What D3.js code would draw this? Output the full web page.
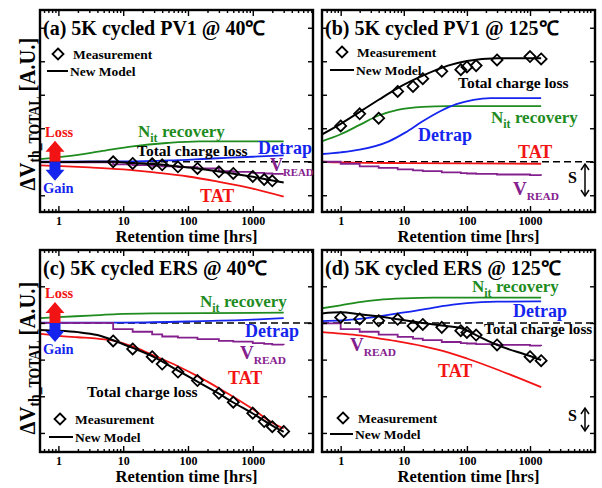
<!DOCTYPE html>
<html>
<head>
<meta charset="utf-8">
<script src="https://cdn.jsdelivr.net/npm/d3@7"></script>
<style>
body { margin: 0; background: #fff; }
svg { display: block; font-family: "Liberation Serif", "Times New Roman", serif; font-weight: bold; }
</style>
</head>
<body>
<div id="chart"></div>
<script>
// ---- data (time in hrs, dVth in A.U.) ----
var xTickLabels = ["1", "10", "100", "1000"];
var xMajor = [1, 10, 100, 1000];

// (a) PV1 @ 40C
var aMeasT = [7, 14, 28, 40, 70, 140, 300, 500, 1000, 1500, 2000];
var aMeasV = [0.0, -0.05, -0.06, -0.09, -0.15, -0.2, -0.3, -0.35, -0.44, -0.53, -0.57];
var aModelT = [0.52, 1, 3, 7, 14, 30, 70, 140, 300, 1000, 2000, 3000];
var aModelV = [-0.01, -0.01, 0, 0, -0.04, -0.07, -0.14, -0.2, -0.29, -0.45, -0.56, -0.62];
var aNitT = [0.52, 1.3, 4.4, 14, 47, 150, 3000];
var aNitV = [0.08, 0.16, 0.31, 0.46, 0.56, 0.61, 0.61];
var aDetT = [0.52, 10, 50, 200, 1000, 3000];
var aDetV = [0, 0.01, 0.04, 0.09, 0.15, 0.19];
var aTatT = [0.52, 1, 3, 10, 30, 100, 300, 1000, 3000];
var aTatV = [-0.11, -0.13, -0.17, -0.23, -0.32, -0.44, -0.6, -0.8, -1.04];
var aVrdT = [0.52, 7, 14, 28, 40, 70, 140, 300, 500, 1000, 1500, 2000, 3000];
var aVrdV = [-0.02, -0.08, -0.1, -0.12, -0.14, -0.16, -0.2, -0.28, -0.3, -0.33, -0.35, -0.36, -0.36];

// (b) PV1 @ 125C
var bMeasT = [1, 2, 4, 8, 14, 20, 40, 80, 100, 140, 300, 1000, 1500];
var bMeasV = [1.07, 1.43, 1.30, 2.10, 2.25, 2.48, 2.70, 2.75, 2.83, 2.87, 3.04, 3.14, 3.07];
var bModelT = [0.5, 1, 2, 4, 8, 20, 50, 100, 300, 1500];
var bModelV = [0.81, 1.13, 1.49, 1.85, 2.2, 2.57, 2.87, 3.01, 3.09, 3.09];
var bNitT = [0.5, 1, 2, 4, 8, 20, 50, 1500];
var bNitV = [0.61, 0.82, 1.1, 1.38, 1.55, 1.64, 1.66, 1.66];
var bDetT = [0.5, 1, 2, 5.8, 10.5, 19.6, 37, 68, 127, 236, 1500];
var bDetV = [0.23, 0.28, 0.36, 0.61, 0.87, 1.2, 1.5, 1.72, 1.85, 1.9, 1.9];
var bTatT = [0.5, 1, 10, 100, 1500];
var bTatV = [0, -0.02, -0.04, -0.05, -0.06];
var bVrdT = [0.5, 1, 2, 4, 8, 14, 20, 40, 80, 100, 140, 300, 1000, 1500];
var bVrdV = [0, -0.06, -0.14, -0.18, -0.23, -0.26, -0.28, -0.32, -0.34, -0.35, -0.36, -0.38, -0.4, -0.41];

// (c) ERS @ 40C
var cMeasT = [7, 14, 28, 40, 70, 140, 300, 500, 1000, 1500, 2000, 3000];
var cMeasV = [-0.49, -0.71, -0.92, -1.12, -1.34, -1.57, -1.92, -2.16, -2.46, -2.69, -2.83, -2.96];
var cModelT = [0.52, 1, 2, 4, 7, 14, 30, 70, 140, 300, 500, 1000, 2000, 3000];
var cModelV = [-0.19, -0.21, -0.25, -0.33, -0.47, -0.68, -0.93, -1.3, -1.6, -1.93, -2.17, -2.47, -2.8, -2.97];
var cNitT = [0.52, 1, 3, 8, 30, 3000];
var cNitV = [0.13, 0.16, 0.2, 0.24, 0.26, 0.28];
var cDetT = [0.52, 10, 100, 1000, 3000];
var cDetV = [0.01, 0.01, 0.04, 0.09, 0.13];
var cTatT = [0.52, 1, 2, 4, 7, 14, 28, 70, 140, 300, 1000, 2000, 3000];
var cTatV = [-0.3, -0.35, -0.39, -0.43, -0.48, -0.64, -0.87, -1.18, -1.45, -1.78, -2.35, -2.72, -2.88];
var cVrdT = [0.52, 7, 14, 28, 40, 70, 140, 300, 500, 1000, 1500, 2000, 3000];
var cVrdV = [0, -0.17, -0.24, -0.31, -0.37, -0.4, -0.44, -0.49, -0.51, -0.55, -0.57, -0.59, -0.6];

// (d) ERS @ 125C
var dMeasT = [1, 2, 4, 8, 14, 20, 40, 80, 100, 140, 300, 1000, 1500];
var dMeasV = [0.15, 0.11, 0.06, 0.1, -0.08, -0.04, -0.12, -0.21, -0.26, -0.33, -0.6, -0.92, -1.03];
var dModelT = [0.5, 1, 2, 4, 8, 20, 40, 84, 140, 300, 1000, 1500];
var dModelV = [0.26, 0.29, 0.24, 0.18, 0.1, 0.0, -0.07, -0.15, -0.33, -0.6, -0.9, -1.01];
var dNitT = [0.5, 1, 2, 4, 10, 30, 1500];
var dNitV = [0.4, 0.48, 0.57, 0.63, 0.67, 0.69, 0.69];
var dDetT = [0.5, 1, 2, 4, 8, 15, 30, 60, 100, 300, 1500];
var dDetV = [0.05, 0.07, 0.11, 0.18, 0.26, 0.33, 0.42, 0.5, 0.54, 0.58, 0.59];
var dTatT = [0.5, 1, 2, 4, 8, 20, 50, 100, 300, 700, 1500];
var dTatV = [-0.25, -0.29, -0.34, -0.42, -0.5, -0.63, -0.8, -0.97, -1.27, -1.52, -1.75];
var dVrdT = [0.5, 1, 2, 4, 8, 14, 20, 40, 80, 100, 140, 300, 1000, 1500];
var dVrdV = [-0.01, -0.17, -0.24, -0.32, -0.38, -0.43, -0.47, -0.52, -0.55, -0.56, -0.58, -0.6, -0.62, -0.63];

var GREEN = "#1f8c1f", BLUE = "#1525ee", RED = "#f21414", PURPLE = "#84208e";

var W = 602, H = 488;
var svg = d3.select("#chart").append("svg").attr("width", W).attr("height", H);

function zip(t, v) { return t.map(function (d, i) { return [d, v[i]]; }); }

/**
 * Text with subscript parts: parts = [[string, isSub, size, shift]]
 */
function richText(g, x, y, size, color, parts, anchor) {
    var t = g.append("text").attr("x", x).attr("y", y)
        .attr("font-size", size).attr("fill", color)
        .attr("text-anchor", anchor || "start");
    var shift = 0;
    parts.forEach(function (p) {
        var sp = t.append("tspan").text(p[0]);
        if (p[2]) sp.attr("font-size", p[2]);
        if (p[1]) { var s = p[3] || size * 0.3; sp.attr("dy", s); shift = s; }
        else if (shift) { sp.attr("dy", -shift); shift = 0; }
    });
    return t;
}

function diamond(g, cx, cy) {
    var r = 5.5;
    g.append("path")
        .attr("d", "M" + cx + "," + (cy - r) + "L" + (cx + r) + "," + cy + "L" + cx + "," + (cy + r) + "L" + (cx - r) + "," + cy + "Z")
        .attr("fill", "none").attr("stroke", "#000").attr("stroke-width", 1.8);
}

function drawPanel(p) {
    var g = svg.append("g");
    var x = d3.scaleLog().domain(p.xDom).range([p.x0, p.x1]);
    var y = d3.scaleLinear().domain(p.yDom).range([p.y1, p.y0]);

    var clip = "clip-" + p.id;
    svg.append("clipPath").attr("id", clip).append("rect")
        .attr("x", p.x0).attr("y", p.y0).attr("width", p.x1 - p.x0).attr("height", p.y1 - p.y0);
    var plot = g.append("g").attr("clip-path", "url(#" + clip + ")");

    // zero reference
    plot.append("line")
        .attr("x1", p.x0).attr("x2", p.x1).attr("y1", y(0)).attr("y2", y(0))
        .attr("stroke", "#000").attr("stroke-width", 1.6).attr("stroke-dasharray", "7,4");

    var smooth = d3.line().x(function (d) { return x(d[0]); }).y(function (d) { return y(d[1]); })
        .curve(d3.curveMonotoneX);
    var step = d3.line().x(function (d) { return x(d[0]); }).y(function (d) { return y(d[1]); })
        .curve(d3.curveStepAfter);

    plot.append("path").datum(zip(p.nit[0], p.nit[1])).attr("d", smooth)
        .attr("fill", "none").attr("stroke", GREEN).attr("stroke-width", 1.8);
    plot.append("path").datum(zip(p.det[0], p.det[1])).attr("d", smooth)
        .attr("fill", "none").attr("stroke", BLUE).attr("stroke-width", 1.8);
    plot.append("path").datum(zip(p.tat[0], p.tat[1])).attr("d", smooth)
        .attr("fill", "none").attr("stroke", RED).attr("stroke-width", 1.8);
    plot.append("path").datum(zip(p.vrd[0], p.vrd[1])).attr("d", step)
        .attr("fill", "none").attr("stroke", PURPLE).attr("stroke-width", 1.8);
    plot.append("path").datum(zip(p.model[0], p.model[1])).attr("d", smooth)
        .attr("fill", "none").attr("stroke", "#000").attr("stroke-width", 2);
    zip(p.meas[0], p.meas[1]).forEach(function (d) { diamond(plot, x(d[0]), y(d[1])); });

    // ticks
    var minor = [];
    for (var e = -1; e < 5; e++) for (var k = 2; k < 10; k++) {
        var v = k * Math.pow(10, e);
        if (v >= p.xDom[0] && v <= p.xDom[1]) minor.push(v);
    }
    var axes = g.append("g");
    axes.append("g").attr("transform", "translate(0," + p.y1 + ")")
        .call(d3.axisBottom(x).tickValues(minor).tickSize(-3).tickFormat(""));
    axes.append("g").attr("transform", "translate(0," + p.y1 + ")")
        .call(d3.axisBottom(x).tickValues(xMajor).tickSize(-6).tickPadding(4)
            .tickFormat(function (d, i) { return xTickLabels[i]; }));
    axes.append("g").attr("transform", "translate(0," + p.y0 + ")")
        .call(d3.axisTop(x).tickValues(minor).tickSize(-3).tickFormat(""));
    axes.append("g").attr("transform", "translate(0," + p.y0 + ")")
        .call(d3.axisTop(x).tickValues(xMajor).tickSize(-6).tickFormat(""));
    axes.append("g").attr("transform", "translate(" + p.x0 + ",0)")
        .call(d3.axisLeft(y).tickValues(p.yTicks).tickSize(-5).tickFormat(""));
    axes.append("g").attr("transform", "translate(" + p.x1 + ",0)")
        .call(d3.axisRight(y).tickValues(p.yTicks).tickSize(-5).tickFormat(""));
    axes.selectAll(".domain").remove();
    axes.selectAll(".tick line").attr("stroke", "#000").attr("stroke-width", 1.4);
    axes.selectAll(".tick text").attr("font-family", "Liberation Serif, Times New Roman, serif")
        .attr("font-weight", "bold").attr("font-size", 12).attr("fill", "#000");

    g.append("rect").attr("x", p.x0).attr("y", p.y0)
        .attr("width", p.x1 - p.x0).attr("height", p.y1 - p.y0)
        .attr("fill", "none").attr("stroke", "#000").attr("stroke-width", 2.4);

    // axis title
    g.append("text").attr("x", (p.x0 + p.x1) / 2 + 10).attr("y", p.y1 + 30)
        .attr("text-anchor", "middle").attr("font-size", 16.5).text("Retention time [hrs]");

    // panel title
    g.append("text").attr("x", p.x0 + 3).attr("y", p.y0 + 25)
        .attr("font-size", 20).text(p.title);

    p.x = x; p.y = y; p.g = g;
    return p;
}

function lossGain(p, cx) {
    var z = p.y(0);
    p.g.append("path")
        .attr("d", "M" + (cx - 5.5) + "," + z + "V" + (z - 10) + "H" + (cx - 9.5) + "L" + cx + "," + (z - 21) +
            "L" + (cx + 9.5) + "," + (z - 10) + "H" + (cx + 5.5) + "V" + z + "Z")
        .attr("fill", RED);
    p.g.append("path")
        .attr("d", "M" + (cx - 5.5) + "," + z + "V" + (z + 8) + "H" + (cx - 9.5) + "L" + cx + "," + (z + 19) +
            "L" + (cx + 9.5) + "," + (z + 8) + "H" + (cx + 5.5) + "V" + z + "Z")
        .attr("fill", BLUE);
    p.g.append("text").attr("x", 45).attr("y", z - 25).attr("font-size", 14.5).attr("fill", RED).text("Loss");
    p.g.append("text").attr("x", 43).attr("y", z + 31).attr("font-size", 14.5).attr("fill", BLUE).text("Gain");
}

function sArrow(p, yTop, yBot, yText) {
    var ax = 585;
    p.g.append("line").attr("x1", ax).attr("x2", ax).attr("y1", yTop + 1).attr("y2", yBot - 1)
        .attr("stroke", "#000").attr("stroke-width", 1.5);
    p.g.append("path").attr("d", "M" + (ax - 4) + "," + (yTop + 6) + "L" + ax + "," + yTop + "L" + (ax + 4) + "," + (yTop + 6))
        .attr("fill", "none").attr("stroke", "#000").attr("stroke-width", 1.5);
    p.g.append("path").attr("d", "M" + (ax - 4) + "," + (yBot - 6) + "L" + ax + "," + yBot + "L" + (ax + 4) + "," + (yBot - 6))
        .attr("fill", "none").attr("stroke", "#000").attr("stroke-width", 1.5);
    p.g.append("text").attr("x", 568).attr("y", yText).attr("font-size", 16).text("S");
}

function legend(p, dx, dy, lx1, lx2, ly) {
    diamond(p.g, dx, dy);
    p.g.append("text").attr("x", dx + 15).attr("y", dy + 4.5).attr("font-size", 13.5).text("Measurement");
    p.g.append("line").attr("x1", lx1).attr("x2", lx2).attr("y1", ly).attr("y2", ly)
        .attr("stroke", "#000").attr("stroke-width", 2);
    p.g.append("text").attr("x", lx2 + 2).attr("y", ly + 4.5).attr("font-size", 13.5).text("New Model");
}

function nitLabel(p, x, y) {
    richText(p.g, x, y, 17, GREEN, [["N", false], ["it", true, 12, 5], [" recovery", false]]);
}
function vreadLabel(p, x, y, size) {
    size = size || 19;
    richText(p.g, x, y, size, PURPLE, [["V", false], ["READ", true, size * 0.6, 5]]);
}

var leftX = [0.52, 8500], rightX = [0.506, 10700];
var topY = [-1.5, 4.53], botY = [-3.52, 1.99];

var pa = drawPanel({ id: "a", x0: 40, y0: 10, x1: 313, y1: 212, xDom: leftX, yDom: topY, yTicks: [-1, 0, 1, 2, 3, 4],
    title: "(a) 5K cycled PV1 @ 40\u2103",
    meas: [aMeasT, aMeasV], model: [aModelT, aModelV], nit: [aNitT, aNitV], det: [aDetT, aDetV],
    tat: [aTatT, aTatV], vrd: [aVrdT, aVrdV] });
var pb = drawPanel({ id: "b", x0: 322, y0: 10, x1: 595, y1: 212, xDom: rightX, yDom: topY, yTicks: [-1, 0, 1, 2, 3, 4],
    title: "(b) 5K cycled PV1 @ 125\u2103",
    meas: [bMeasT, bMeasV], model: [bModelT, bModelV], nit: [bNitT, bNitV], det: [bDetT, bDetV],
    tat: [bTatT, bTatV], vrd: [bVrdT, bVrdV] });
var pc = drawPanel({ id: "c", x0: 40, y0: 250, x1: 313, y1: 452, xDom: leftX, yDom: botY, yTicks: [-3, -2, -1, 0, 1],
    title: "(c) 5K cycled ERS @ 40\u2103",
    meas: [cMeasT, cMeasV], model: [cModelT, cModelV], nit: [cNitT, cNitV], det: [cDetT, cDetV],
    tat: [cTatT, cTatV], vrd: [cVrdT, cVrdV] });
var pd = drawPanel({ id: "d", x0: 322, y0: 250, x1: 595, y1: 452, xDom: rightX, yDom: botY, yTicks: [-3, -2, -1, 0, 1],
    title: "(d) 5K cycled ERS @ 125\u2103",
    meas: [dMeasT, dMeasV], model: [dModelT, dModelV], nit: [dNitT, dNitV], det: [dDetT, dDetV],
    tat: [dTatT, dTatV], vrd: [dVrdT, dVrdV] });

// y axis titles (left column only), slightly condensed like the original
[[pa, 114], [pc, 358]].forEach(function (q) {
    var t = svg.append("text").attr("transform", "translate(35," + q[1] + ") rotate(-90) scale(0.86,1)")
        .attr("text-anchor", "middle").attr("font-size", 24);
    t.append("tspan").text("\u0394V");
    t.append("tspan").attr("font-size", 16).attr("dy", 5).text("th_TOTAL");
    t.append("tspan").attr("dy", -5).text(" [A.U.]");
});

// (a) annotations
legend(pa, 58, 54, 47, 68, 71);
nitLabel(pa, 138, 137);
pa.g.append("text").attr("x", 137).attr("y", 156).attr("font-size", 15.5).text("Total charge loss");
pa.g.append("text").attr("x", 258).attr("y", 154).attr("font-size", 18).attr("fill", BLUE).text("Detrap");
vreadLabel(pa, 270, 171, 18);
pa.g.append("text").attr("x", 200).attr("y", 202).attr("font-size", 18).attr("fill", RED).text("TAT");
lossGain(pa, 55);

// (b) annotations
legend(pb, 342, 52, 330, 354, 70);
pb.g.append("text").attr("x", 458).attr("y", 88).attr("font-size", 15.5).text("Total charge loss");
nitLabel(pb, 491, 123);
pb.g.append("text").attr("x", 418).attr("y", 141).attr("font-size", 18).attr("fill", BLUE).text("Detrap");
pb.g.append("text").attr("x", 518).attr("y", 158).attr("font-size", 18).attr("fill", RED).text("TAT");
vreadLabel(pb, 513, 195);
sArrow(pb, 164, 196, 183);

// (c) annotations
lossGain(pc, 55);
nitLabel(pc, 200, 307);
pc.g.append("text").attr("x", 245).attr("y", 337).attr("font-size", 18).attr("fill", BLUE).text("Detrap");
vreadLabel(pc, 240, 359);
pc.g.append("text").attr("x", 228).attr("y", 384).attr("font-size", 18).attr("fill", RED).text("TAT");
pc.g.append("text").attr("x", 87).attr("y", 397).attr("font-size", 15.5).text("Total charge loss");
legend(pc, 60, 419, 49, 73, 437);

// (d) annotations
nitLabel(pd, 472, 292);
pd.g.append("text").attr("x", 513).attr("y", 317).attr("font-size", 18).attr("fill", BLUE).text("Detrap");
pd.g.append("text").attr("x", 484).attr("y", 334).attr("font-size", 15.2).text("Total charge loss");
vreadLabel(pd, 350, 351);
pd.g.append("text").attr("x", 438).attr("y", 377).attr("font-size", 18).attr("fill", RED).text("TAT");
legend(pd, 343, 418, 330, 353, 434);
sArrow(pd, 408, 431, 421);
</script>
</body>
</html>
